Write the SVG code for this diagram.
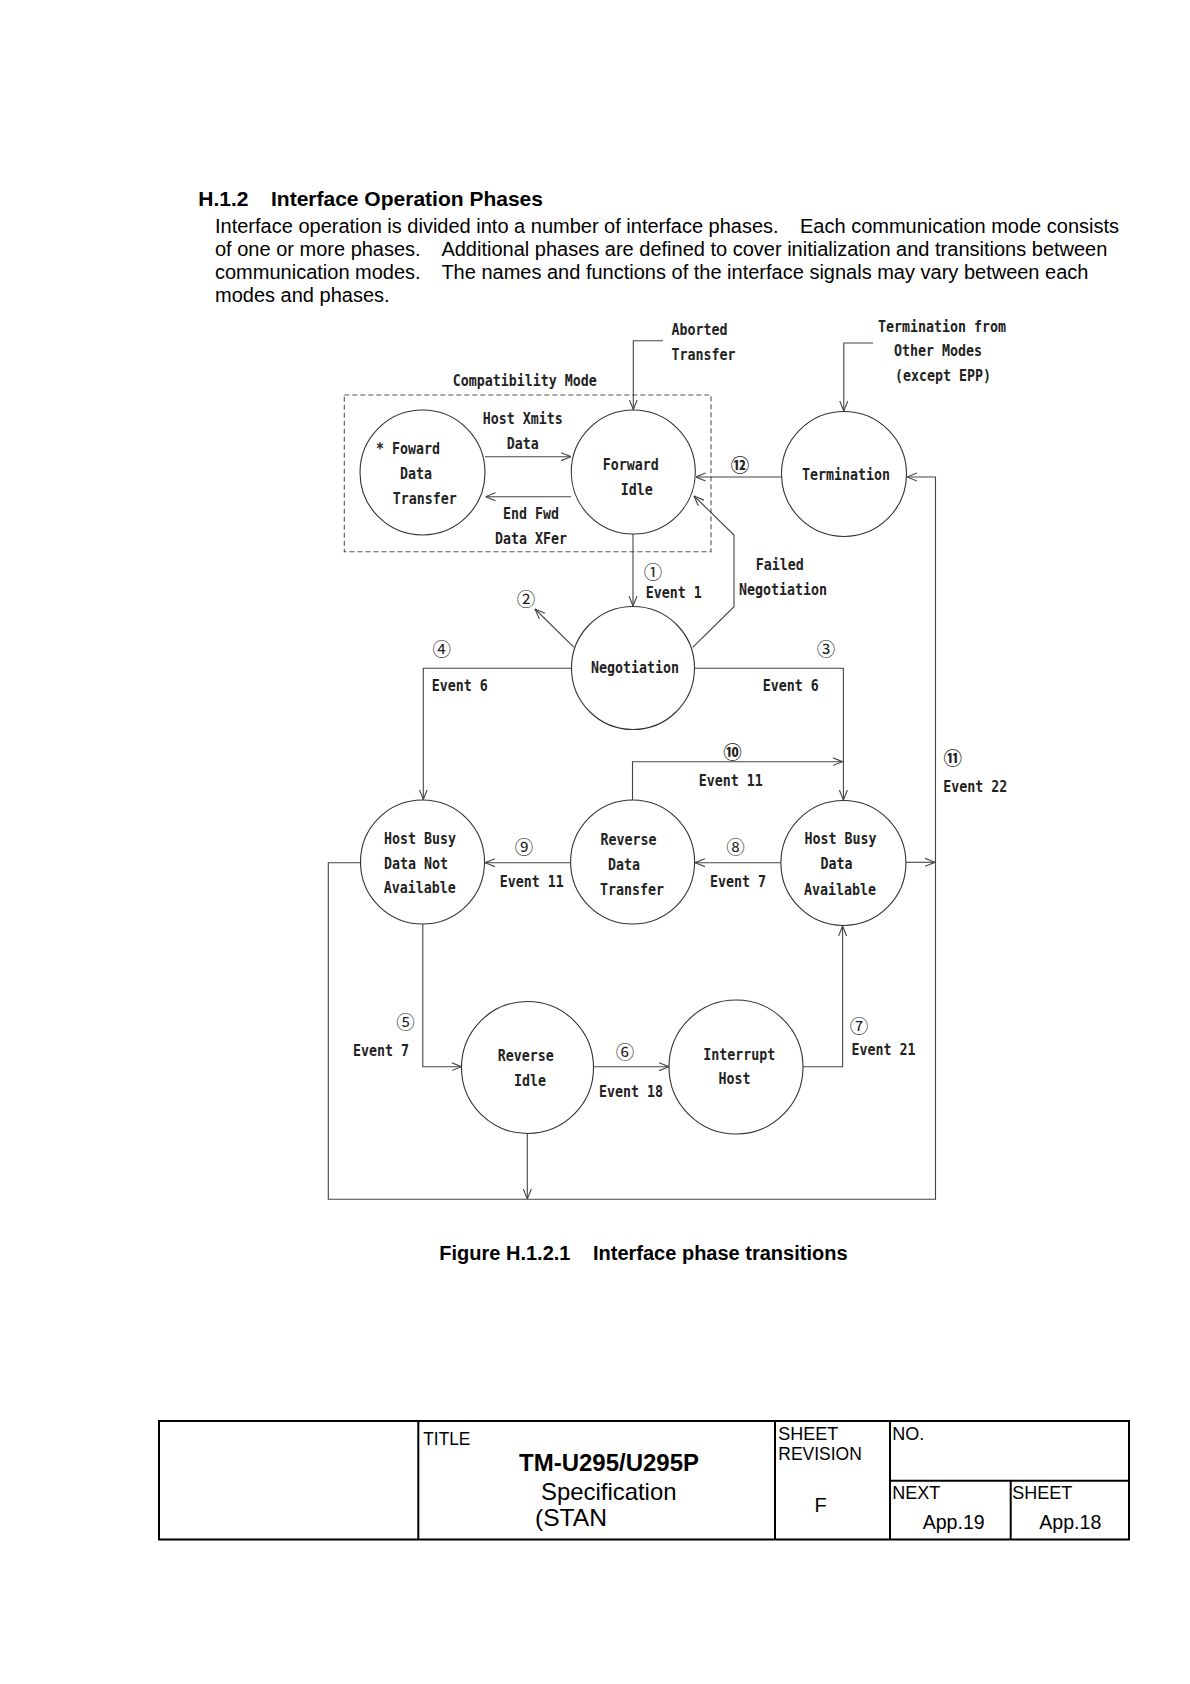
<svg xmlns="http://www.w3.org/2000/svg" width="1190" height="1684" viewBox="0 0 1190 1684">
<defs>
<style>
.bg{fill:#fff}
.h{font-family:"Liberation Sans",Arial,sans-serif;font-size:21px;font-weight:bold;fill:#000}
.body{font-family:"Liberation Sans",Arial,sans-serif;font-size:20px;fill:#000}
.cap{font-family:"Liberation Sans",Arial,sans-serif;font-size:20px;font-weight:bold;fill:#000}
.mono{font-family:"DejaVu Sans Mono","Liberation Mono",monospace;font-size:15px;font-weight:bold;fill:#222}
.num{font-family:"Noto Sans CJK JP","DejaVu Sans",sans-serif;font-size:18.5px;text-anchor:middle;fill:#222}
.node{fill:none;stroke:#333;stroke-width:1.1}
.conn{fill:none;stroke:#444;stroke-width:1.1}
.box{fill:none;stroke:#555;stroke-width:1.1;stroke-dasharray:5 3}
.tb{fill:none;stroke:#000;stroke-width:2}
.t18{font-family:"Liberation Sans",Arial,sans-serif;font-size:18px;fill:#000}
.t20{font-family:"Liberation Sans",Arial,sans-serif;font-size:20px;fill:#000}
.t24{font-family:"Liberation Sans",Arial,sans-serif;font-size:24px;fill:#000}
.t24b{font-family:"Liberation Sans",Arial,sans-serif;font-size:24px;font-weight:bold;fill:#000}
</style>
<marker id="ah" viewBox="0 0 10 10" refX="10" refY="5" markerWidth="10" markerHeight="10" markerUnits="userSpaceOnUse" orient="auto">
<path d="M0,1 L10,5 L0,9" fill="none" stroke="#444" stroke-width="1.1"/>
</marker>
</defs>
<rect class="bg" x="0" y="0" width="1190" height="1684"/>

<g id="heading">
<text class="h" x="198.3" y="206">H.1.2</text>
<text class="h" x="271" y="206">Interface Operation Phases</text>
<text class="body" x="215" y="233.4">Interface operation is divided into a number of interface phases.</text>
<text class="body" x="800" y="233.4">Each communication mode consists</text>
<text class="body" x="215" y="256.4">of one or more phases.</text>
<text class="body" x="441.4" y="256.4">Additional phases are defined to cover initialization and transitions between</text>
<text class="body" x="215" y="279.4">communication modes.</text>
<text class="body" x="441.4" y="279.4">The names and functions of the interface signals may vary between each</text>
<text class="body" x="215" y="302.4">modes and phases.</text>
</g>

<g id="compat-mode">
<rect class="box" x="344.3" y="395" width="366.7" height="156.7"/>
<text class="mono" x="452.7" y="385.5" textLength="144" lengthAdjust="spacingAndGlyphs">Compatibility Mode</text>
</g>

<g id="connectors">
<path class="conn" d="M663,340.7 H633.3 V409.5" marker-end="url(#ah)"/>
<path class="conn" d="M873,343 H843.8 V411" marker-end="url(#ah)"/>
<path class="conn" d="M485,456.7 H571" marker-end="url(#ah)"/>
<path class="conn" d="M571,496.7 H485.5" marker-end="url(#ah)"/>
<path class="conn" d="M781.5,477 H695.5" marker-end="url(#ah)"/>
<path class="conn" d="M633,534 V606" marker-end="url(#ah)"/>
<path class="conn" d="M574,647.3 L535,609" marker-end="url(#ah)"/>
<path class="conn" d="M692.7,647.3 L734,606.7 V535 L694,496" marker-end="url(#ah)"/>
<path class="conn" d="M571.5,668.3 H423.3 V799.5" marker-end="url(#ah)"/>
<path class="conn" d="M694.5,668.3 H843.4 V800" marker-end="url(#ah)"/>
<path class="conn" d="M632.5,800 V761.7 H842.5" marker-end="url(#ah)"/>
<path class="conn" d="M571,862.7 H485" marker-end="url(#ah)"/>
<path class="conn" d="M780.8,862.7 H695" marker-end="url(#ah)"/>
<path class="conn" d="M422.8,924 V1066.7 H461.5" marker-end="url(#ah)"/>
<path class="conn" d="M593.5,1066.7 H669" marker-end="url(#ah)"/>
<path class="conn" d="M803,1066.7 H842.6 V926" marker-end="url(#ah)"/>
<path class="conn" d="M360.5,862.7 H328.3 V1199.3 H935.5 V477 H907" marker-end="url(#ah)"/>
<path class="conn" d="M527.3,1133.5 V1199" marker-end="url(#ah)"/>
<path class="conn" d="M906,862.3 H935" marker-end="url(#ah)"/>
</g>

<g id="labels">
<text class="mono" x="671.5" y="335.2" textLength="56" lengthAdjust="spacingAndGlyphs">Aborted</text>
<text class="mono" x="671.5" y="360.2" textLength="64" lengthAdjust="spacingAndGlyphs">Transfer</text>
<text class="mono" x="878" y="331.7" textLength="128" lengthAdjust="spacingAndGlyphs">Termination from</text>
<text class="mono" x="894" y="356.3" textLength="88" lengthAdjust="spacingAndGlyphs">Other Modes</text>
<text class="mono" x="895" y="380.8" textLength="96" lengthAdjust="spacingAndGlyphs">(except EPP)</text>
<text class="mono" x="482.7" y="423.5" textLength="80" lengthAdjust="spacingAndGlyphs">Host Xmits</text>
<text class="mono" x="506.7" y="448.5" textLength="32" lengthAdjust="spacingAndGlyphs">Data</text>
<text class="mono" x="503" y="518.8" textLength="56" lengthAdjust="spacingAndGlyphs">End Fwd</text>
<text class="mono" x="495" y="543.8" textLength="72" lengthAdjust="spacingAndGlyphs">Data XFer</text>
<text class="num" x="740" y="472" font-weight="bold">⑫</text>
<text class="num" x="653" y="578.7">①</text>
<text class="mono" x="645.7" y="597.5" textLength="56" lengthAdjust="spacingAndGlyphs">Event 1</text>
<text class="num" x="526" y="606.3">②</text>
<text class="mono" x="755.7" y="569.8" textLength="48" lengthAdjust="spacingAndGlyphs">Failed</text>
<text class="mono" x="739" y="595" textLength="88" lengthAdjust="spacingAndGlyphs">Negotiation</text>
<text class="num" x="441.7" y="656">④</text>
<text class="mono" x="431.7" y="690.8" textLength="56" lengthAdjust="spacingAndGlyphs">Event 6</text>
<text class="num" x="826" y="655.7">③</text>
<text class="mono" x="762.7" y="690.8" textLength="56" lengthAdjust="spacingAndGlyphs">Event 6</text>
<text class="num" x="732.5" y="758.5" font-weight="bold">⑩</text>
<text class="mono" x="698.8" y="785.5" textLength="64" lengthAdjust="spacingAndGlyphs">Event 11</text>
<text class="num" x="952.7" y="765.3" font-weight="bold">⑪</text>
<text class="mono" x="943.3" y="792.2" textLength="64" lengthAdjust="spacingAndGlyphs">Event 22</text>
<text class="num" x="523.9" y="854.3">⑨</text>
<text class="mono" x="499.7" y="886.5" textLength="64" lengthAdjust="spacingAndGlyphs">Event 11</text>
<text class="num" x="735.5" y="854">⑧</text>
<text class="mono" x="710" y="886.5" textLength="56" lengthAdjust="spacingAndGlyphs">Event 7</text>
<text class="num" x="405.6" y="1029.3">⑤</text>
<text class="mono" x="353" y="1055.8" textLength="56" lengthAdjust="spacingAndGlyphs">Event 7</text>
<text class="num" x="624.9" y="1058.7">⑥</text>
<text class="mono" x="599" y="1096.8" textLength="64" lengthAdjust="spacingAndGlyphs">Event 18</text>
<text class="num" x="859" y="1032.7">⑦</text>
<text class="mono" x="851.4" y="1054.8" textLength="64" lengthAdjust="spacingAndGlyphs">Event 21</text>
</g>

<g id="node-forward-data-transfer">
<circle class="node" cx="422.5" cy="472.5" r="62.5"/>
<text class="mono" x="376" y="453.8" textLength="64" lengthAdjust="spacingAndGlyphs">* Foward</text>
<text class="mono" x="400" y="478.5" textLength="32" lengthAdjust="spacingAndGlyphs">Data</text>
<text class="mono" x="392.7" y="503.8" textLength="64" lengthAdjust="spacingAndGlyphs">Transfer</text>
</g>
<g id="node-forward-idle">
<circle class="node" cx="633.3" cy="472" r="62"/>
<text class="mono" x="602.7" y="469.7" textLength="56" lengthAdjust="spacingAndGlyphs">Forward</text>
<text class="mono" x="620.7" y="494.7" textLength="32" lengthAdjust="spacingAndGlyphs">Idle</text>
</g>
<g id="node-termination">
<circle class="node" cx="844" cy="474" r="62.5"/>
<text class="mono" x="802" y="479.7" textLength="88" lengthAdjust="spacingAndGlyphs">Termination</text>
</g>
<g id="node-negotiation">
<circle class="node" cx="633" cy="668" r="61.5"/>
<text class="mono" x="591" y="672.5" textLength="88" lengthAdjust="spacingAndGlyphs">Negotiation</text>
</g>
<g id="node-host-busy-data-not-available">
<circle class="node" cx="422.5" cy="862" r="62"/>
<text class="mono" x="384" y="843.8" textLength="72" lengthAdjust="spacingAndGlyphs">Host Busy</text>
<text class="mono" x="384" y="868.8" textLength="64" lengthAdjust="spacingAndGlyphs">Data Not</text>
<text class="mono" x="383.8" y="893.2" textLength="72" lengthAdjust="spacingAndGlyphs">Available</text>
</g>
<g id="node-reverse-data-transfer">
<circle class="node" cx="632.6" cy="862" r="62"/>
<text class="mono" x="600.4" y="845.2" textLength="56" lengthAdjust="spacingAndGlyphs">Reverse</text>
<text class="mono" x="608" y="870.2" textLength="32" lengthAdjust="spacingAndGlyphs">Data</text>
<text class="mono" x="600" y="894.5" textLength="64" lengthAdjust="spacingAndGlyphs">Transfer</text>
</g>
<g id="node-host-busy-data-available">
<circle class="node" cx="843.4" cy="863" r="62.5"/>
<text class="mono" x="804.4" y="843.8" textLength="72" lengthAdjust="spacingAndGlyphs">Host Busy</text>
<text class="mono" x="820.5" y="868.8" textLength="32" lengthAdjust="spacingAndGlyphs">Data</text>
<text class="mono" x="804" y="894.5" textLength="72" lengthAdjust="spacingAndGlyphs">Available</text>
</g>
<g id="node-reverse-idle">
<circle class="node" cx="527.5" cy="1067.5" r="66"/>
<text class="mono" x="497.8" y="1060.8" textLength="56" lengthAdjust="spacingAndGlyphs">Reverse</text>
<text class="mono" x="513.9" y="1085.8" textLength="32" lengthAdjust="spacingAndGlyphs">Idle</text>
</g>
<g id="node-interrupt-host">
<circle class="node" cx="736" cy="1067" r="67"/>
<text class="mono" x="703.3" y="1059.5" textLength="72" lengthAdjust="spacingAndGlyphs">Interrupt</text>
<text class="mono" x="718.6" y="1084.2" textLength="32" lengthAdjust="spacingAndGlyphs">Host</text>
</g>

<g id="caption">
<text class="cap" x="439.3" y="1260">Figure H.1.2.1</text>
<text class="cap" x="593" y="1260">Interface phase transitions</text>
</g>

<g id="title-block">
<rect class="tb" x="159" y="1421" width="970" height="118.5"/>
<path class="tb" d="M418.3,1421 V1539.5 M775,1421 V1539.5 M890,1421 V1539.5 M890,1480.7 H1129 M1010.7,1480.7 V1539.5"/>
<text class="t18" x="423.3" y="1445" textLength="47" lengthAdjust="spacingAndGlyphs">TITLE</text>
<text class="t24b" x="519" y="1470.6" textLength="180" lengthAdjust="spacingAndGlyphs">TM-U295/U295P</text>
<text class="t24" x="541" y="1499.6" textLength="135.5" lengthAdjust="spacingAndGlyphs">Specification</text>
<text class="t24" x="535" y="1526" textLength="72" lengthAdjust="spacingAndGlyphs">(STAN</text>
<text class="t18" x="778.3" y="1440">SHEET</text>
<text class="t18" x="778.3" y="1460" textLength="83.5" lengthAdjust="spacingAndGlyphs">REVISION</text>
<text class="t18" x="892.3" y="1440">NO.</text>
<text class="t20" x="814.5" y="1512">F</text>
<text class="t18" x="892.3" y="1499">NEXT</text>
<text class="t18" x="1012.3" y="1499">SHEET</text>
<text class="t20" x="922.7" y="1529" textLength="62" lengthAdjust="spacingAndGlyphs">App.19</text>
<text class="t20" x="1039.3" y="1529" textLength="62" lengthAdjust="spacingAndGlyphs">App.18</text>
</g>
</svg>
